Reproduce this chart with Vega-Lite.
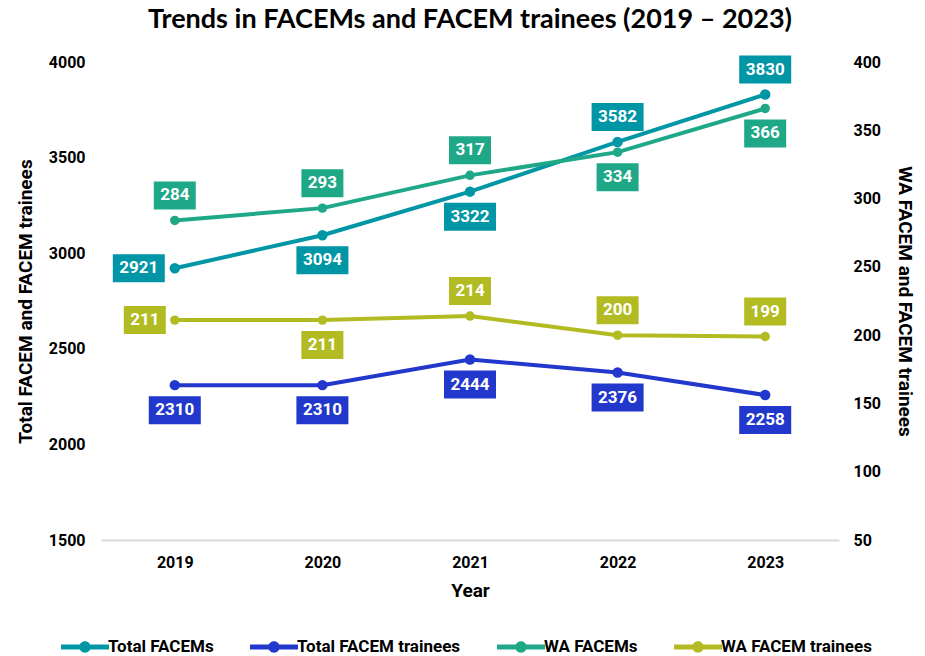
{
  "$schema": "https://vega.github.io/schema/vega-lite/v6.json",
  "width": 738,
  "height": 478,
  "autosize": {"type": "none"},
  "padding": {"left": 101, "top": 62, "right": 86, "bottom": 116},
  "title": {
    "text": "Trends in FACEMs and FACEM trainees (2019 – 2023)",
    "fontSize": 27,
    "fontWeight": "bold",
    "font": "Lato",
    "color": "#000000",
    "anchor": "middle",
    "offset": 20
  },
  "data": {
    "values": [
      {"year": "2019", "series": "Total FACEMs", "value": 2921},
      {"year": "2020", "series": "Total FACEMs", "value": 3094},
      {"year": "2021", "series": "Total FACEMs", "value": 3322},
      {"year": "2022", "series": "Total FACEMs", "value": 3582},
      {"year": "2023", "series": "Total FACEMs", "value": 3830},
      {"year": "2019", "series": "Total FACEM trainees", "value": 2310},
      {"year": "2020", "series": "Total FACEM trainees", "value": 2310},
      {"year": "2021", "series": "Total FACEM trainees", "value": 2444},
      {"year": "2022", "series": "Total FACEM trainees", "value": 2376},
      {"year": "2023", "series": "Total FACEM trainees", "value": 2258},
      {"year": "2019", "series": "WA FACEMs", "value": 284},
      {"year": "2020", "series": "WA FACEMs", "value": 293},
      {"year": "2021", "series": "WA FACEMs", "value": 317},
      {"year": "2022", "series": "WA FACEMs", "value": 334},
      {"year": "2023", "series": "WA FACEMs", "value": 366},
      {"year": "2019", "series": "WA FACEM trainees", "value": 211},
      {"year": "2020", "series": "WA FACEM trainees", "value": 211},
      {"year": "2021", "series": "WA FACEM trainees", "value": 214},
      {"year": "2022", "series": "WA FACEM trainees", "value": 200},
      {"year": "2023", "series": "WA FACEM trainees", "value": 199}
    ]
  },
  "layer": [
    {
      "transform": [{"filter": "datum.series === 'Total FACEMs' || datum.series === 'Total FACEM trainees'"}],
      "encoding": {
        "x": {
          "field": "year", "type": "ordinal",
          "scale": {"type": "point", "padding": 0.5},
          "axis": {"title": "Year", "labelAngle": 0, "ticks": false, "domainColor": "#d9d9d9", "domainWidth": 2, "labelPadding": 14, "titlePadding": 11}
        },
        "y": {
          "field": "value", "type": "quantitative",
          "scale": {"domain": [1500, 4000], "nice": false, "zero": false},
          "axis": {"orient": "left", "title": "Total FACEM and FACEM trainees", "format": "d", "values": [1500, 2000, 2500, 3000, 3500, 4000], "grid": false, "domain": false, "ticks": false, "labelPadding": 16, "titlePadding": 13}
        },
        "color": {
          "field": "series", "type": "nominal",
          "scale": {"domain": ["Total FACEMs", "Total FACEM trainees", "WA FACEMs", "WA FACEM trainees"], "range": ["#0096A5", "#2238CC", "#1FA888", "#B2BB22"]},
          "legend": {
            "title": null, "orient": "none", "direction": "horizontal", "legendX": -31, "legendY": 570,
            "symbolType": "M-1.6,-0.16H1.6V0.16H-1.6Z M0.38,0A0.38,0.38 0 1,1 -0.38,0A0.38,0.38 0 1,1 0.38,0Z",
            "symbolSize": 900, "symbolStrokeWidth": 0, "labelFontSize": 17, "labelFontWeight": "bold", "labelOffset": 8, "labelLimit": 400, "columnPadding": 36,
            "encode": {"symbols": {"update": {"fill": {"scale": "color", "field": "value"}, "stroke": {"value": "transparent"}, "opacity": {"value": 1}}}}
          }
        }
      },
      "layer": [
        {"mark": {"type": "line", "strokeWidth": 4}},
        {"mark": {"type": "point", "filled": true, "size": 110, "opacity": 1}},
        {
          "transform": [{"filter": "datum.series === 'Total FACEMs' && datum.year === '2019'"}],
          "layer": [
            {"mark": {"type": "point", "shape": "M-26,-14H26V14H-26Z", "size": 4, "filled": true, "opacity": 1, "xOffset": -36}},
            {"mark": {"type": "text", "fontSize": 17, "fontWeight": "bold", "baseline": "middle", "align": "center", "xOffset": -36}, "encoding": {"text": {"field": "value", "type": "quantitative", "format": "d"}, "color": {"value": "white"}}}
          ]
        },
        {
          "transform": [{"filter": "datum.series === 'Total FACEMs' && (datum.year === '2022' || datum.year === '2023')"}],
          "layer": [
            {"mark": {"type": "point", "shape": "M-26,-14H26V14H-26Z", "size": 4, "filled": true, "opacity": 1, "yOffset": -25}},
            {"mark": {"type": "text", "fontSize": 17, "fontWeight": "bold", "baseline": "middle", "align": "center", "yOffset": -25}, "encoding": {"text": {"field": "value", "type": "quantitative", "format": "d"}, "color": {"value": "white"}}}
          ]
        },
        {
          "transform": [{"filter": "!(datum.series === 'Total FACEMs' && (datum.year === '2019' || datum.year === '2022' || datum.year === '2023'))"}],
          "layer": [
            {"mark": {"type": "point", "shape": "M-26,-14H26V14H-26Z", "size": 4, "filled": true, "opacity": 1, "yOffset": 25}},
            {"mark": {"type": "text", "fontSize": 17, "fontWeight": "bold", "baseline": "middle", "align": "center", "yOffset": 25}, "encoding": {"text": {"field": "value", "type": "quantitative", "format": "d"}, "color": {"value": "white"}}}
          ]
        }
      ]
    },
    {
      "transform": [{"filter": "datum.series === 'WA FACEMs' || datum.series === 'WA FACEM trainees'"}],
      "encoding": {
        "x": {
          "field": "year", "type": "ordinal",
          "scale": {"type": "point", "padding": 0.5},
          "axis": {"title": "Year", "labelAngle": 0, "ticks": false, "domainColor": "#d9d9d9", "domainWidth": 2, "labelPadding": 14, "titlePadding": 11}
        },
        "y": {
          "field": "value", "type": "quantitative",
          "scale": {"domain": [50, 400], "nice": false, "zero": false},
          "axis": {"orient": "right", "title": "WA FACEM and FACEM trainees", "values": [50, 100, 150, 200, 250, 300, 350, 400], "grid": false, "domain": false, "ticks": false, "labelPadding": 14, "titlePadding": 14}
        },
        "color": {
          "field": "series", "type": "nominal",
          "scale": {"domain": ["Total FACEMs", "Total FACEM trainees", "WA FACEMs", "WA FACEM trainees"], "range": ["#0096A5", "#2238CC", "#1FA888", "#B2BB22"]},
          "legend": {
            "title": null, "orient": "none", "direction": "horizontal", "legendX": -31, "legendY": 570,
            "symbolType": "M-1.6,-0.16H1.6V0.16H-1.6Z M0.38,0A0.38,0.38 0 1,1 -0.38,0A0.38,0.38 0 1,1 0.38,0Z",
            "symbolSize": 900, "symbolStrokeWidth": 0, "labelFontSize": 17, "labelFontWeight": "bold", "labelOffset": 8, "labelLimit": 400, "columnPadding": 36,
            "encode": {"symbols": {"update": {"fill": {"scale": "color", "field": "value"}, "stroke": {"value": "transparent"}, "opacity": {"value": 1}}}}
          }
        }
      },
      "layer": [
        {"mark": {"type": "line", "strokeWidth": 4}},
        {"mark": {"type": "point", "filled": true, "size": 90, "opacity": 1}},
        {
          "transform": [{"filter": "datum.series === 'WA FACEM trainees' && datum.year === '2019'"}],
          "layer": [
            {"mark": {"type": "point", "shape": "M-21,-14H21V14H-21Z", "size": 4, "filled": true, "opacity": 1, "xOffset": -30}},
            {"mark": {"type": "text", "fontSize": 17, "fontWeight": "bold", "baseline": "middle", "align": "center", "xOffset": -30}, "encoding": {"text": {"field": "value", "type": "quantitative", "format": "d"}, "color": {"value": "white"}}}
          ]
        },
        {
          "transform": [{"filter": "(datum.series === 'WA FACEMs' && (datum.year === '2022' || datum.year === '2023')) || (datum.series === 'WA FACEM trainees' && datum.year === '2020')"}],
          "layer": [
            {"mark": {"type": "point", "shape": "M-21,-14H21V14H-21Z", "size": 4, "filled": true, "opacity": 1, "yOffset": 25}},
            {"mark": {"type": "text", "fontSize": 17, "fontWeight": "bold", "baseline": "middle", "align": "center", "yOffset": 25}, "encoding": {"text": {"field": "value", "type": "quantitative", "format": "d"}, "color": {"value": "white"}}}
          ]
        },
        {
          "transform": [{"filter": "!((datum.series === 'WA FACEM trainees' && (datum.year === '2019' || datum.year === '2020')) || (datum.series === 'WA FACEMs' && (datum.year === '2022' || datum.year === '2023')))"}],
          "layer": [
            {"mark": {"type": "point", "shape": "M-21,-14H21V14H-21Z", "size": 4, "filled": true, "opacity": 1, "yOffset": -25}},
            {"mark": {"type": "text", "fontSize": 17, "fontWeight": "bold", "baseline": "middle", "align": "center", "yOffset": -25}, "encoding": {"text": {"field": "value", "type": "quantitative", "format": "d"}, "color": {"value": "white"}}}
          ]
        }
      ]
    }
  ],
  "resolve": {"scale": {"y": "independent"}, "axis": {"y": "independent"}},
  "config": {
    "font": "Roboto",
    "view": {"stroke": null},
    "axis": {"labelFontSize": 16, "labelFontWeight": "bold", "labelColor": "#000000", "titleFontSize": 19, "titleFontWeight": "bold", "titleColor": "#000000"},
    "axisX": {"titleFontSize": 19},
    "legend": {"labelColor": "#000000"}
  }
}
